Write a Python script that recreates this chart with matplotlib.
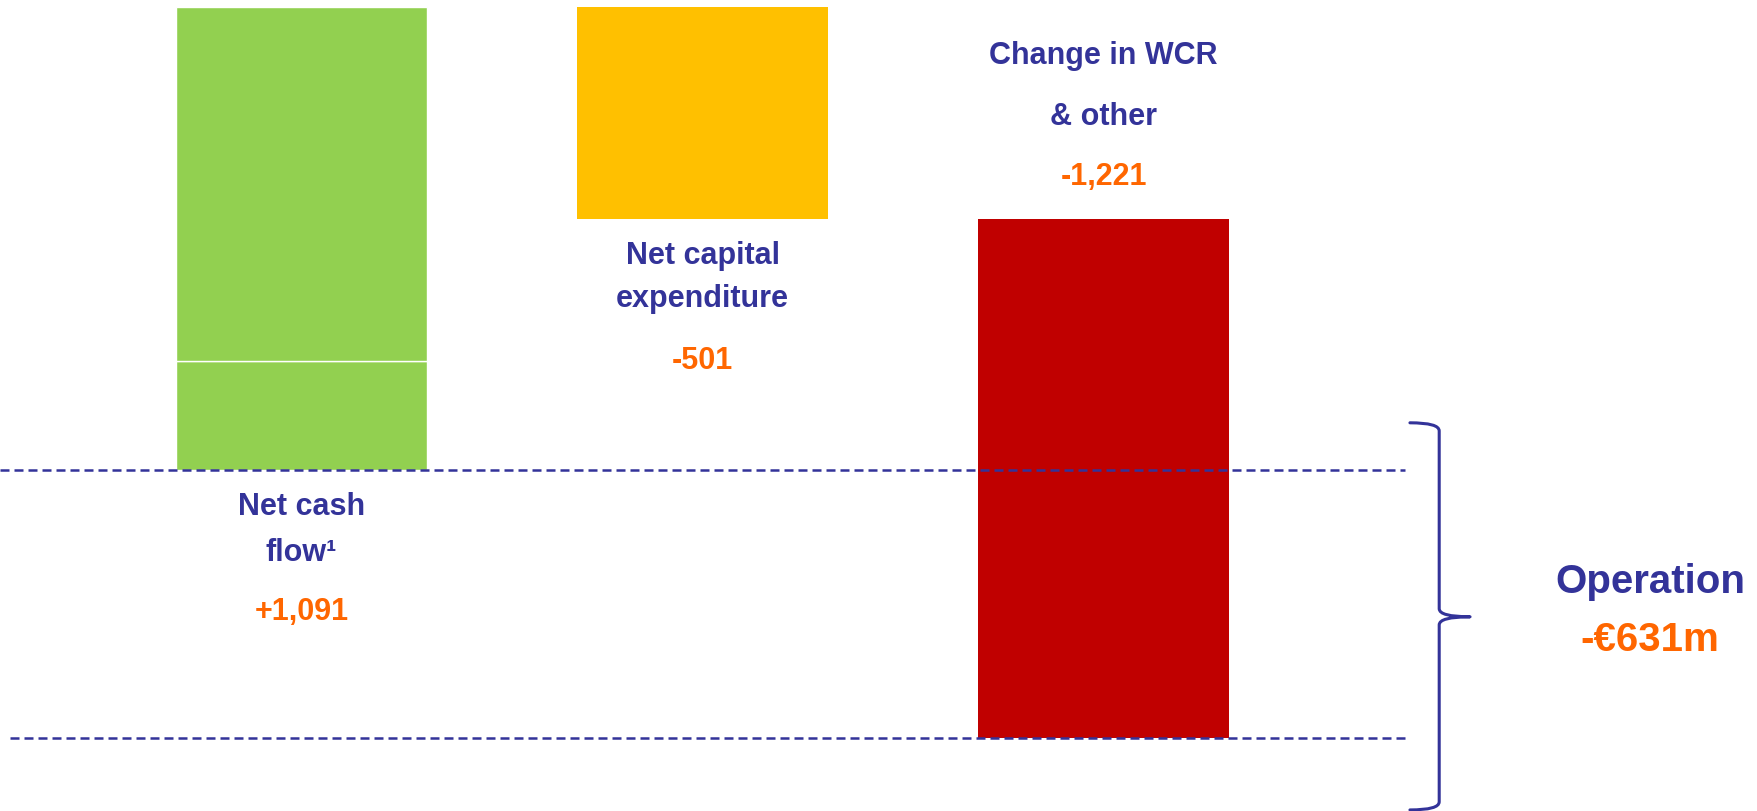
import matplotlib
matplotlib.use("Agg")
import matplotlib.pyplot as plt
from matplotlib.path import Path
from matplotlib.patches import PathPatch
from matplotlib import font_manager

# data
names = [["Net cash", "flow\u00b9"], ["Net capital", "expenditure"], ["Change in WCR", "& other"]]
values = [1091, -501, -1221]
value_labels = ["+1,091", "-501", "-1,221"]
green_split = [257, 834]          # the green bar is drawn in two stacked pieces
colors = ["#92D050", "#FFC000", "#C00000"]
total_title = "Operation"

NAVY = "#333399"
ORANGE = "#FF6600"

# font: Arial Narrow look-alike if present
avail = {f.name for f in font_manager.fontManager.ttflist}
if "Liberation Sans Narrow" in avail:
    FONT, fs, fs_big = "Liberation Sans Narrow", 26, 34
else:
    FONT, fs, fs_big = "Liberation Sans", 22, 29
plt.rcParams["font.family"] = [FONT, "DejaVu Sans"]

fig = plt.figure(figsize=(17.58, 8.11), dpi=100)
ax = fig.add_axes([0, 0, 1, 1])
ax.set_xlim(-0.752, 3.632)
ax.set_ylim(-803.5, 1107)
ax.axis("off")

width = 0.626
x = list(range(len(values)))

# waterfall bars
start = 0
ends = []
for i, v in enumerate(values):
    end = start + v
    ends.append((start, end))
    if i == 0:
        ax.bar(x[i], green_split[0], width=width, bottom=start, color=colors[i],
               edgecolor="white", linewidth=1, zorder=2)
        ax.bar(x[i], green_split[1], width=width, bottom=start + green_split[0],
               color=colors[i], edgecolor="white", linewidth=1, zorder=2)
    else:
        ax.bar(x[i], abs(v), width=width, bottom=min(start, end), color=colors[i],
               linewidth=0, zorder=2)
    start = end
total = start

# dashed reference lines at start and end level
dash = (0, (3.6, 2.0))
ax.hlines(0, -0.752, 2.752, colors=NAVY, linestyles=dash, linewidth=1.8, zorder=3)
ax.hlines(total, -0.727, 2.752, colors=NAVY, linestyles=dash, linewidth=1.8, zorder=3)

px = 0.72  # pixel -> point

def label(xi, y, dy_px, txt, color, size):
    ax.annotate(txt, xy=(xi, y), xytext=(0, dy_px * px), textcoords="offset points",
                ha="center", va="center", color=color, fontsize=size, fontweight="bold")

# labels below green and yellow bars, above red bar
for i in range(2):
    low = min(ends[i])
    label(x[i], low, -37, names[i][0], NAVY, fs)
    label(x[i], low, -83 if i == 0 else -80, names[i][1], NAVY, fs)
    label(x[i], low, -142, value_labels[i], ORANGE, fs)
top_red = max(ends[2])
label(x[2], top_red, 163, names[2][0], NAVY, fs)
label(x[2], top_red, 102, names[2][1], NAVY, fs)
label(x[2], top_red, 42, value_labels[2], ORANGE, fs)

# brace
bx, tip, hook = 2.837, 2.914, 2.764
btop, bmid, bbot = 111, -346, -801
r = 19
verts = [(hook, btop), (bx, btop), (bx, btop - r),
         (bx, bmid + r), (bx, bmid), (tip, bmid),
         (bx, bmid), (bx, bmid - r),
         (bx, bbot + r), (bx, bbot), (hook, bbot)]
codes = [Path.MOVETO, Path.CURVE3, Path.CURVE3,
         Path.LINETO, Path.CURVE3, Path.CURVE3,
         Path.CURVE3, Path.CURVE3,
         Path.LINETO, Path.CURVE3, Path.CURVE3]
ax.add_patch(PathPatch(Path(verts, codes), fill=False, edgecolor=NAVY, linewidth=2.2,
                       capstyle="round", joinstyle="round", zorder=3))

ax.text(0.9386, 0.2824, total_title, transform=ax.transAxes, ha="center", va="center",
        color=NAVY, fontsize=fs_big, fontweight="bold")
ax.text(0.9386, 0.2109, f"-\u20ac{abs(total)}m", transform=ax.transAxes, ha="center",
        va="center", color=ORANGE, fontsize=fs_big, fontweight="bold")

fig.savefig("out.png", dpi=100, facecolor="white")
